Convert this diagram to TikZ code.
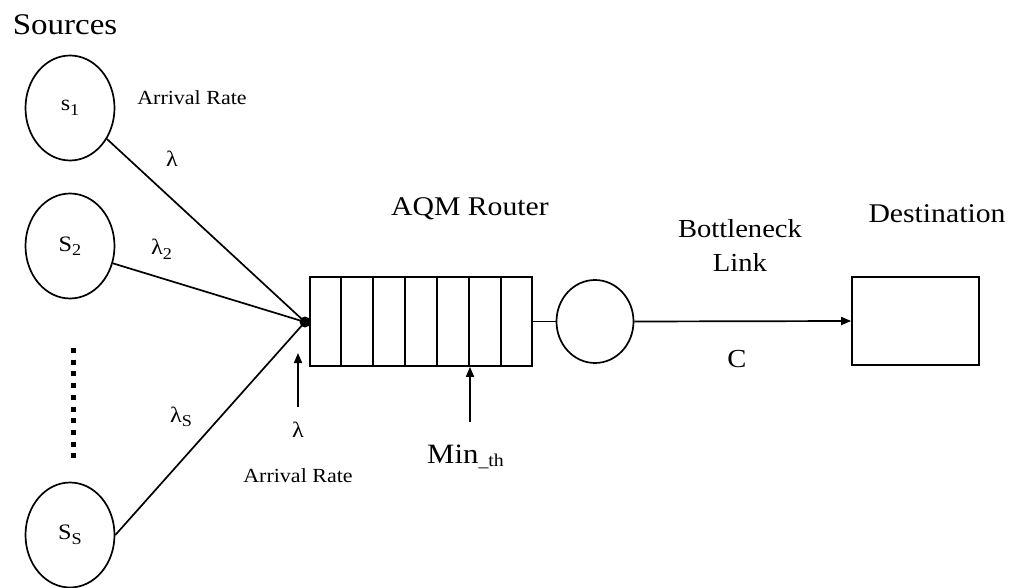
\documentclass[tikz,border=0pt]{standalone}
\usepackage{fontspec}
\setmainfont[FakeStretch=1.1]{Liberation Serif}
\usetikzlibrary{shapes.geometric,arrows.meta,calc}
\newcommand{\fsz}[1]{\fontsize{#1}{#1}\selectfont}
\newcommand{\lsub}[1]{\raisebox{-0.45ex}{\fontsize{0.75em}{0.75em}\selectfont #1}}
\begin{document}
\begin{tikzpicture}[x=1pt,y=-1pt,
  lw/.style={line width=1.7pt},
  src/.style={ellipse,draw,lw,minimum width=89pt,minimum height=105pt,inner sep=0pt,font=\fsz{22}},
  tip/.style={-{Triangle[length=10pt,width=8pt]}},
  lbl/.style={anchor=base,inner sep=0pt},
]
\useasboundingbox (0,0) rectangle (1010,588);
\fill[white] (0,0) rectangle (1010,588);

% sources
\node[src] (s1) at (70,108) {s\lsub{1}};
\node[src] (s2) at (70,246) {S\lsub{2}};
\node[src] (ss) at (70,535) {S\lsub{S}};
\node[lbl,font=\fsz{30}] (srcl) at (65,35) {Sources};
\coordinate (d1) at (73,348);
\coordinate (d2) at (73,458);
\draw[line width=5pt,dash pattern=on 5pt off 6.7pt] (d1) -- (d2);

% hub
\coordinate (hub) at (305,322);
\draw[lw] (s1.-40) -- (hub);
\draw[lw] (s2.-22) -- (hub);
\draw[lw] (ss.east) -- (hub);
\fill (hub) circle (5.5pt);

% labels near links
\node[lbl,font=\fsz{20}] (ar1) at (192,105) {Arrival Rate};
\node[lbl,font=\fsz{22}] (l1) at (172,167) {λ};
\node[lbl,font=\fsz{22},anchor=base west] (l2) at (151,255) {λ\lsub{2}};
\node[lbl,font=\fsz{22},anchor=base west] (ls) at (170,422) {λ\lsub{S}};

% queue
\node[draw,lw,rectangle,minimum width=222pt,minimum height=89pt,inner sep=0pt] (q) at (421,321.5) {};
\foreach \k in {1,...,6}{
  \draw[lw] ($(q.north west)!\k/7!(q.north east)$) -- ($(q.south west)!\k/7!(q.south east)$);
}
\node[lbl,font=\fsz{27}] (aqm) at (470,216) {AQM Router};

% arrival arrow
\coordinate (lt) at (298,407);
\coordinate (lh) at (298,353);
\draw[lw,tip] (lt) -- (lh);
\node[lbl,font=\fsz{22}] (l0) at (298,437) {λ};
\node[lbl,font=\fsz{20}] (ar2) at (298,482) {Arrival Rate};

% min_th arrow
\coordinate (mt) at (470,422);
\draw[lw,tip] (mt) -- (mt |- q.south);
\node[lbl,font=\fsz{28},anchor=base west] (minth) at (427,463) {Min\raisebox{-0.3ex}{\fsz{18}\_th}};

% server
\node[ellipse,draw,lw,minimum width=77pt,minimum height=83pt,inner sep=0pt] (srv) at (595,321.5) {};
\draw[lw] (q.east) -- (srv.west);

% destination
\node[draw,lw,rectangle,minimum width=127pt,minimum height=88pt,inner sep=0pt] (dst) at (915.5,321) {};
\draw[lw,tip] (srv.east) -- (dst.west);
\node[lbl,font=\fsz{27}] (dstl) at (937,223) {Destination};
\node[lbl,font=\fsz{26}] (bl1) at (740,238) {Bottleneck};
\node[lbl,font=\fsz{26}] (bl2) at (740,272) {Link};
\node[lbl,font=\fsz{26}] (cl) at (737,367) {C};
\end{tikzpicture}
\end{document}
